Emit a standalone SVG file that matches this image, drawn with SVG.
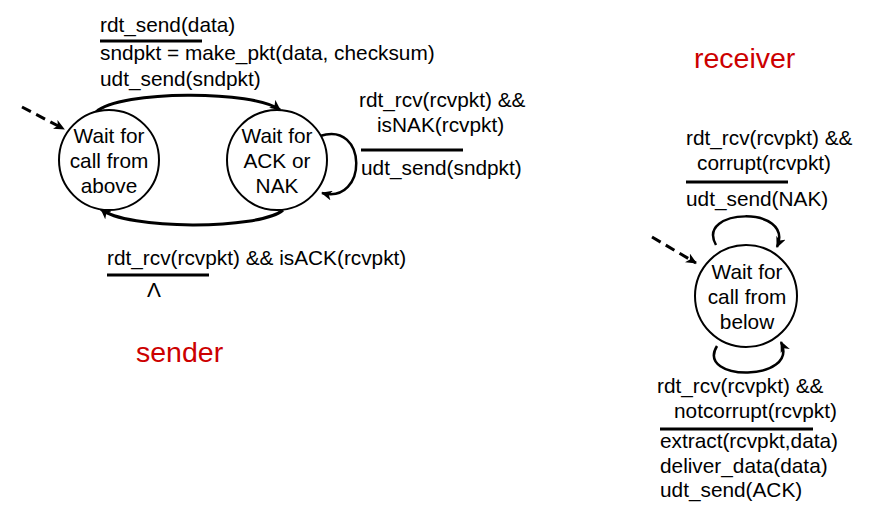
<svg xmlns="http://www.w3.org/2000/svg" width="886" height="514" viewBox="0 0 886 514">
<defs>
<marker id="ah" markerUnits="userSpaceOnUse" markerWidth="12" markerHeight="10" refX="10" refY="5" orient="auto">
<path d="M0,0 L11,5 L0,10 L3,5 z" fill="#000"/>
</marker>
<style>
.t{font-family:"Liberation Sans",Arial,sans-serif;font-size:20.8px;fill:#000}
.c{text-anchor:middle}
.r{font-family:"Liberation Sans",Arial,sans-serif;font-size:28.5px;fill:#cc0000}
.st{fill:#fff;stroke:#000;stroke-width:2}
.e{fill:none;stroke:#000;stroke-width:3;marker-end:url(#ah)}
.l{fill:none;stroke:#000;stroke-width:2.5;marker-end:url(#ah)}
.d{fill:none;stroke:#000;stroke-width:3;stroke-dasharray:10 6;marker-end:url(#ah)}
.u{stroke:#000;stroke-width:3}
</style>
</defs>
<rect width="886" height="514" fill="#fff"/>
<g id="connectors">
<path class="d" d="M22 107 L64 129"/>
<path class="e" d="M96 112 C120 90 255 90 280 110"/>
<path class="e" d="M283 210 C260 230 125 230 101 209"/>
<path class="l" d="M320 136 C368 120 368 205 322 193"/>
<path class="d" d="M652 237 L696 263"/>
<path class="l" d="M716 245 C695 208 795 205 777 247"/>
<path class="l" d="M717 346 C695 382 800 382 781 342"/>
</g>
<g id="s1">
<circle class="st" cx="109" cy="160" r="50"/>
<text class="t c" x="109" y="143">Wait for</text>
<text class="t c" x="109" y="168">call from</text>
<text class="t c" x="109" y="193">above</text>
</g>
<g id="s2">
<circle class="st" cx="277" cy="160" r="50"/>
<text class="t c" x="277" y="143">Wait for</text>
<text class="t c" x="277" y="168">ACK or</text>
<text class="t c" x="277" y="193">NAK</text>
</g>
<g id="r1">
<circle class="st" cx="746" cy="296" r="51"/>
<text class="t c" x="747" y="279">Wait for</text>
<text class="t c" x="747" y="304">call from</text>
<text class="t c" x="747" y="329">below</text>
</g>
<g id="labels">
<text class="t" x="100" y="32">rdt_send(data)</text>
<line class="u" x1="100" y1="41" x2="202" y2="41"/>
<text class="t" x="100" y="60">sndpkt = make_pkt(data, checksum)</text>
<text class="t" x="100" y="86">udt_send(sndpkt)</text>
<text class="t" x="359" y="107">rdt_rcv(rcvpkt) &amp;&amp;</text>
<text class="t" x="377" y="132">isNAK(rcvpkt)</text>
<line class="u" x1="361" y1="150" x2="463" y2="150"/>
<text class="t" x="361" y="175">udt_send(sndpkt)</text>
<text class="t" x="107" y="265">rdt_rcv(rcvpkt) &amp;&amp; isACK(rcvpkt)</text>
<line class="u" x1="107" y1="275" x2="209" y2="275"/>
<text class="t" x="147" y="297" style="font-weight:300">Λ</text>
<text class="r" x="136" y="362">sender</text>
<text class="r" x="694" y="68">receiver</text>
<text class="t" x="686" y="145">rdt_rcv(rcvpkt) &amp;&amp;</text>
<text class="t" x="697" y="170">corrupt(rcvpkt)</text>
<line class="u" x1="686" y1="182" x2="788" y2="182"/>
<text class="t" x="686" y="206">udt_send(NAK)</text>
<text class="t" x="657" y="393">rdt_rcv(rcvpkt) &amp;&amp;</text>
<text class="t" x="674" y="418">notcorrupt(rcvpkt)</text>
<line class="u" x1="660" y1="429" x2="813" y2="429"/>
<text class="t" x="660" y="448">extract(rcvpkt,data)</text>
<text class="t" x="660" y="473">deliver_data(data)</text>
<text class="t" x="660" y="497">udt_send(ACK)</text>
</g>
</svg>
